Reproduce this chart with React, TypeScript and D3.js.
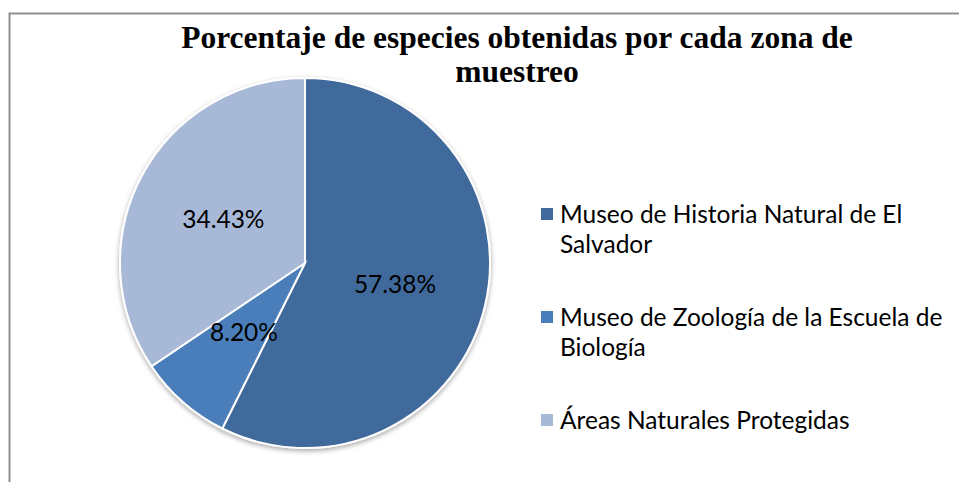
import React from "react";
import * as d3 from "d3";

const categories = [
  "Museo de Historia Natural de El Salvador",
  "Museo de Zoología de la Escuela de Biología",
  "Áreas Naturales Protegidas",
];
const percentages = [57.38, 8.2, 34.43];
const legendLines = [
  ["Museo de Historia Natural de El", "Salvador"],
  ["Museo de Zoología de la Escuela de", "Biología"],
  ["Áreas Naturales Protegidas"],
];
const colors = ["#41699c", "#4a7ebb", "#a8b8d7"];
const titleLines = ["Porcentaje de especies obtenidas por cada zona de", "muestreo"];

const width = 959;
const height = 482;

export const App = () => {
  const cx = 305;
  const cy = 263;
  const radius = 185;

  const pie = d3
    .pie<number>()
    .sort(null)
    .value((d) => d)(percentages);

  const arc = d3.arc<d3.PieArcDatum<number>>().innerRadius(0).outerRadius(radius);

  const legendY = d3
    .scalePoint<string>()
    .domain(categories)
    .range([214, 420]);

  return (
    <svg
      width={width}
      height={height}
      style={{ position: "absolute", left: 0, top: 0, background: "#fff" }}
    >
      <defs>
        <filter id="shadow" x="-20%" y="-20%" width="140%" height="140%">
          <feDropShadow dx="0" dy="2" stdDeviation="2.5" floodColor="#000" floodOpacity="0.35" />
        </filter>
      </defs>
      <rect x={9.5} y={13.5} width={1000} height={1000} fill="none" stroke="#8f8f8f" strokeWidth={2} />

      {titleLines.map((t, i) => (
        <text
          key={i}
          x={517}
          y={48 + i * 34}
          textAnchor="middle"
          fontFamily="'Liberation Serif', 'Times New Roman', serif"
          fontWeight="bold"
          fontSize={31.5}
        >
          {t}
        </text>
      ))}

      <g transform={`translate(${cx},${cy})`}>
        <g filter="url(#shadow)">
          {pie.map((slice, i) => (
            <path key={i} d={arc(slice) as string} fill={colors[i]} stroke="#fff" strokeWidth={2} />
          ))}
        </g>
        {pie.map((slice, i) => {
          const [x, y] = arc.centroid(slice);
          return (
            <text
              key={i}
              x={x}
              y={y}
              dy="0.35em"
              textAnchor="middle"
              fontFamily="Lato, 'Noto Sans', sans-serif"
              fontSize={24.5}
              fill="#000"
            >
              {percentages[i].toFixed(2)}%
            </text>
          );
        })}
      </g>

      {categories.map((c, i) => {
        const y = legendY(c) as number;
        return (
          <g key={c}>
            <rect x={541} y={y - 6} width={12} height={12} fill={colors[i]} />
            {legendLines[i].map((line, j) => (
              <text
                key={j}
                x={560}
                y={y + 8.5 + j * 30}
                fontFamily="Lato, 'Noto Sans', sans-serif"
                fontSize={24.5}
                fill="#000"
              >
                {line}
              </text>
            ))}
          </g>
        );
      })}
    </svg>
  );
};

export default App;
